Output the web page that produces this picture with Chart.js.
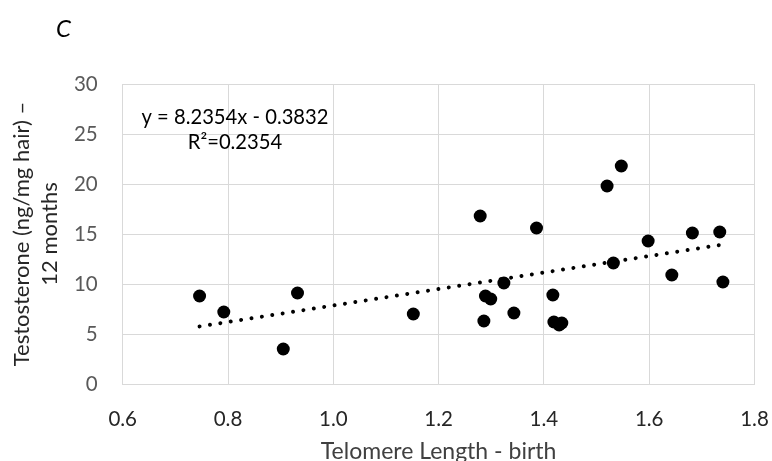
<!DOCTYPE html>
<html><head><meta charset="utf-8">
<script src="https://cdn.jsdelivr.net/npm/chart.js@4"></script>
<style>html,body{margin:0;padding:0;background:#fff;overflow:hidden;}</style>
</head><body>
<canvas id="c" width="772" height="461" style="width:772px;height:461px;display:block"></canvas>
<script>
// ---- data ----
const telomereBirth = [0.746, 0.792, 0.905, 0.932, 1.152, 1.279, 1.286, 1.289, 1.299, 1.324, 1.343, 1.386, 1.417, 1.419, 1.429, 1.434, 1.520, 1.532, 1.547, 1.598, 1.643, 1.682, 1.734, 1.740];
const testosterone12m = [8.8, 7.2, 3.5, 9.1, 7.0, 16.8, 6.3, 8.8, 8.5, 10.1, 7.1, 15.6, 8.9, 6.2, 5.9, 6.1, 19.8, 12.1, 21.8, 14.3, 10.9, 15.1, 15.2, 10.2];
const trendX = [0.746, 1.740];
const trendY = [5.76, 13.95];
const xTicks = [0.6, 0.8, 1.0, 1.2, 1.4, 1.6, 1.8];
const yTicks = [0, 5, 10, 15, 20, 25, 30];
const equationLines = ['y = 8.2354x - 0.3832', 'R\u00B2=0.2354'];
const panelLabel = 'C';
const xTitle = 'Telomere Length - birth';
const yTitle = ['Testosterone (ng/mg hair) \u2013', '12 months'];

const FONT = 'Lato, "Open Sans", sans-serif';

const scatterData = telomereBirth.map((x, i) => ({x: x, y: testosterone12m[i]}));
const trendData = trendX.map((x, i) => ({x: x, y: trendY[i]}));

const textPlugin = {
  id: 'textPlugin',
  afterDraw(chart) {
    const ctx = chart.ctx;
    ctx.save();
    ctx.fillStyle = '#000';
    ctx.textAlign = 'center';
    ctx.textBaseline = 'middle';
    ctx.font = '20.2px ' + FONT;
    ctx.fillText(equationLines[0], 235, 117);
    ctx.fillText(equationLines[1], 235, 142);
    ctx.font = 'italic 24px ' + FONT;
    ctx.fillText(panelLabel, 63.5, 29);
    ctx.restore();
  }
};

new Chart(document.getElementById('c'), {
  type: 'scatter',
  data: {
    datasets: [
      {
        label: 'trend',
        type: 'line',
        data: trendData,
        showLine: true,
        borderColor: '#000',
        borderWidth: 4,
        borderCapStyle: 'round',
        borderDash: [0.01, 10.5],
        pointRadius: 0,
        fill: false,
        order: 0
      },
      {
        label: 'data',
        data: scatterData,
        backgroundColor: '#000',
        borderColor: '#000',
        borderWidth: 0,
        pointRadius: 6.5,
        pointHoverRadius: 6.5,
        order: 1
      }
    ]
  },
  options: {
    responsive: false,
    animation: false,
    devicePixelRatio: 1,
    layout: { padding: { top: 84, right: 17.5, bottom: 0, left: 0 } },
    plugins: { legend: { display: false }, tooltip: { enabled: false } },
    scales: {
      x: {
        type: 'linear',
        min: 0.6, max: 1.8,
        afterBuildTicks(scale) { scale.ticks = xTicks.map(v => ({value: v})); },
        afterFit(scale) { scale.height = 77; scale.paddingLeft = 0; scale.paddingRight = 0; },
        grid: { color: '#d9d9d9', lineWidth: 1, drawTicks: false },
        border: { color: '#d9d9d9', width: 1 },
        ticks: {
          padding: 23,
          color: '#262626',
          font: { family: FONT, size: 20.5 },
          callback: v => Number(v).toFixed(1)
        },
        title: {
          display: true,
          text: xTitle,
          color: '#404040',
          font: { family: FONT, size: 23, lineHeight: 1.0 },
          padding: { top: 0, bottom: -2.5 }
        }
      },
      y: {
        type: 'linear',
        min: 0, max: 30,
        afterBuildTicks(scale) { scale.ticks = yTicks.map(v => ({value: v})); },
        afterFit(scale) { scale.width = 122.7; scale.paddingTop = 0; scale.paddingBottom = 0; },
        grid: { color: '#d9d9d9', lineWidth: 1, drawTicks: false },
        border: { color: '#d9d9d9', width: 1 },
        ticks: {
          padding: 25,
          color: '#595959',
          font: { family: FONT, size: 20.5 },
          callback: v => String(v)
        },
        title: {
          display: true,
          text: yTitle,
          color: '#262626',
          font: { family: FONT, size: 22, lineHeight: 1.27 },
          padding: { top: 8, bottom: 0 }
        }
      }
    }
  },
  plugins: [textPlugin]
});
</script>
</body></html>
